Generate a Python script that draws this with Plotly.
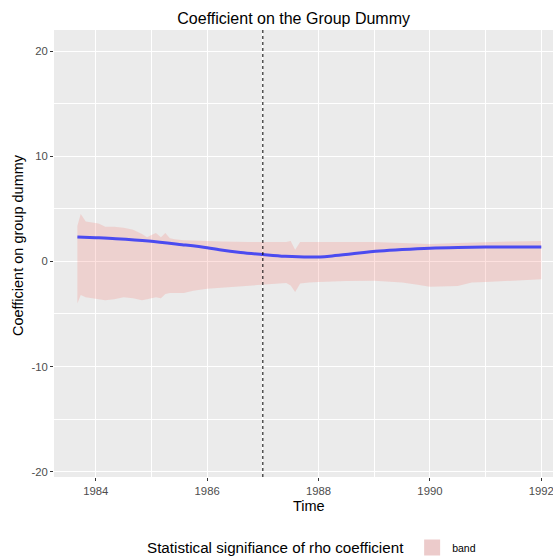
import plotly.graph_objects as go

# Band (ribbon) data: decimal years, upper and lower bounds
time = [1983.67, 1983.73, 1983.82, 1983.92, 1984.05, 1984.17, 1984.33, 1984.5, 1984.67,
        1984.83, 1984.92, 1985.0, 1985.08, 1985.17, 1985.25, 1985.33, 1985.42, 1985.58,
        1985.75, 1986.0, 1986.25, 1986.5, 1986.75, 1987.0, 1987.25, 1987.42, 1987.5,
        1987.58, 1987.67, 1987.83, 1988.0, 1988.5, 1989.0, 1989.5, 1989.75, 1990.0,
        1990.5, 1990.75, 1991.0, 1991.5, 1992.0]
upper = [3.4, 4.5, 3.8, 3.7, 3.6, 3.3, 3.3, 3.2, 3.0,
         2.6, 2.3, 2.5, 2.7, 2.3, 2.7, 2.2, 2.1, 2.0,
         2.0, 1.95, 1.9, 1.85, 1.85, 1.85, 1.85, 1.85, 1.95,
         1.1, 1.85, 1.85, 1.85, 1.8, 1.85, 1.75, 1.7, 1.65,
         1.75, 1.8, 1.85, 1.9, 1.93]
lower = [-4.0, -3.2, -3.4, -3.5, -3.6, -3.7, -3.6, -3.4, -3.5,
         -3.7, -3.6, -3.5, -3.4, -3.5, -3.1, -3.0, -3.0, -3.0,
         -2.8, -2.6, -2.5, -2.4, -2.3, -2.2, -2.1, -2.05, -2.3,
         -2.9, -2.1, -2.0, -1.97, -1.87, -1.85, -2.0, -2.2, -2.4,
         -2.35, -2.0, -1.97, -1.85, -1.7]

# Smoothed coefficient line
line_time = [1983.67, 1984.0, 1984.36, 1984.95, 1985.55, 1986.0, 1986.22, 1986.6, 1987.0,
             1987.4, 1987.89, 1988.2, 1988.61, 1989.1, 1989.5, 1990.0, 1990.5, 1991.0,
             1991.5, 1992.0]
line_val = [2.32, 2.25, 2.16, 1.94, 1.59, 1.3, 1.11, 0.85, 0.65,
            0.48, 0.41, 0.5, 0.73, 0.98, 1.12, 1.25, 1.32, 1.36,
            1.37, 1.37]

vline_x = 1987
x_ticks = [1984, 1986, 1988, 1990, 1992]
x_labels = ["1984", "1986", "1988", "1990", "1992"]
y_ticks = [-20, -10, 0, 10, 20]
y_labels = ["-20", "-10", "0", "10", "20"]

FONT = "Liberation Sans, Arial, sans-serif"

fig = go.Figure()
fig.add_trace(go.Scatter(x=time, y=lower, mode="lines", line=dict(width=0),
                         showlegend=False, hoverinfo="skip"))
fig.add_trace(go.Scatter(x=time, y=upper, mode="lines", line=dict(width=0),
                         fill="tonexty", fillcolor="rgba(248,118,109,0.22)",
                         name="band", showlegend=False))
fig.add_trace(go.Scatter(x=line_time, y=line_val, mode="lines",
                         line=dict(color="#4B4BF0", width=3, shape="spline"),
                         showlegend=False))
# legend key for the band
fig.add_trace(go.Scatter(x=[None], y=[None], mode="markers", name="band",
                         marker=dict(symbol="square", size=20, color="#ECCBCB"),
                         showlegend=True))

fig.add_shape(type="line", xref="x", yref="paper", x0=vline_x, x1=vline_x, y0=0, y1=1,
              line=dict(color="black", width=1, dash="dot"))

# axis titles as annotations (positioned like the reference)
fig.add_annotation(text="Time", xref="paper", yref="paper", x=0.511, y=-0.065,
                   xanchor="center", yanchor="middle", showarrow=False,
                   font=dict(family=FONT, size=14.5, color="black"))
fig.add_annotation(text="Coefficient on group dummy", xref="paper", yref="paper",
                   x=-0.0721, y=0.519, xanchor="center", yanchor="middle",
                   textangle=-90, showarrow=False,
                   font=dict(family=FONT, size=14.5, color="black"))

axis_common = dict(showgrid=True, gridcolor="white", gridwidth=1.1, zeroline=False,
                   ticks="outside", ticklen=3, tickcolor="#333333", tickwidth=1,
                   tickfont=dict(family=FONT, size=11.3, color="#4D4D4D"),
                   showline=False, automargin=False, ticklabeloverflow="allow")

fig.update_layout(
    width=553, height=558,
    margin=dict(l=54, r=0, t=30, b=81),
    paper_bgcolor="white", plot_bgcolor="#EBEBEB",
    font=dict(family=FONT, color="black"),
    title=dict(text="Coefficient on the Group Dummy", x=0.531, xanchor="center",
               xref="container", yref="container",
               y=1 - 18 / 558, yanchor="middle", font=dict(size=16, color="black")),
    xaxis=dict(range=[1983.25, 1992.21], tickvals=x_ticks, ticktext=x_labels,
               minor=dict(tickvals=[1985, 1987, 1989, 1991], showgrid=True,
                          gridcolor="white", gridwidth=0.5, ticks=""),
               **axis_common),
    yaxis=dict(range=[-20.5, 22], tickvals=y_ticks, ticktext=y_labels,
               minor=dict(tickvals=[-15, -5, 5, 15], showgrid=True,
                          gridcolor="white", gridwidth=0.5, ticks=""),
               **axis_common),
    legend=dict(orientation="h", x=0.566, xanchor="center", xref="container",
                yref="container", y=10 / 558, yanchor="middle",
                title=dict(text="Statistical signifiance of rho coefficient",
                           font=dict(size=15.2), side="left"),
                itemsizing="trace",
                font=dict(size=10.5), bgcolor="rgba(0,0,0,0)"),
)

fig.write_html("out.html", config={"displayModeBar": False},
               post_script="document.body.style.margin='0';document.body.style.overflow='hidden';")
